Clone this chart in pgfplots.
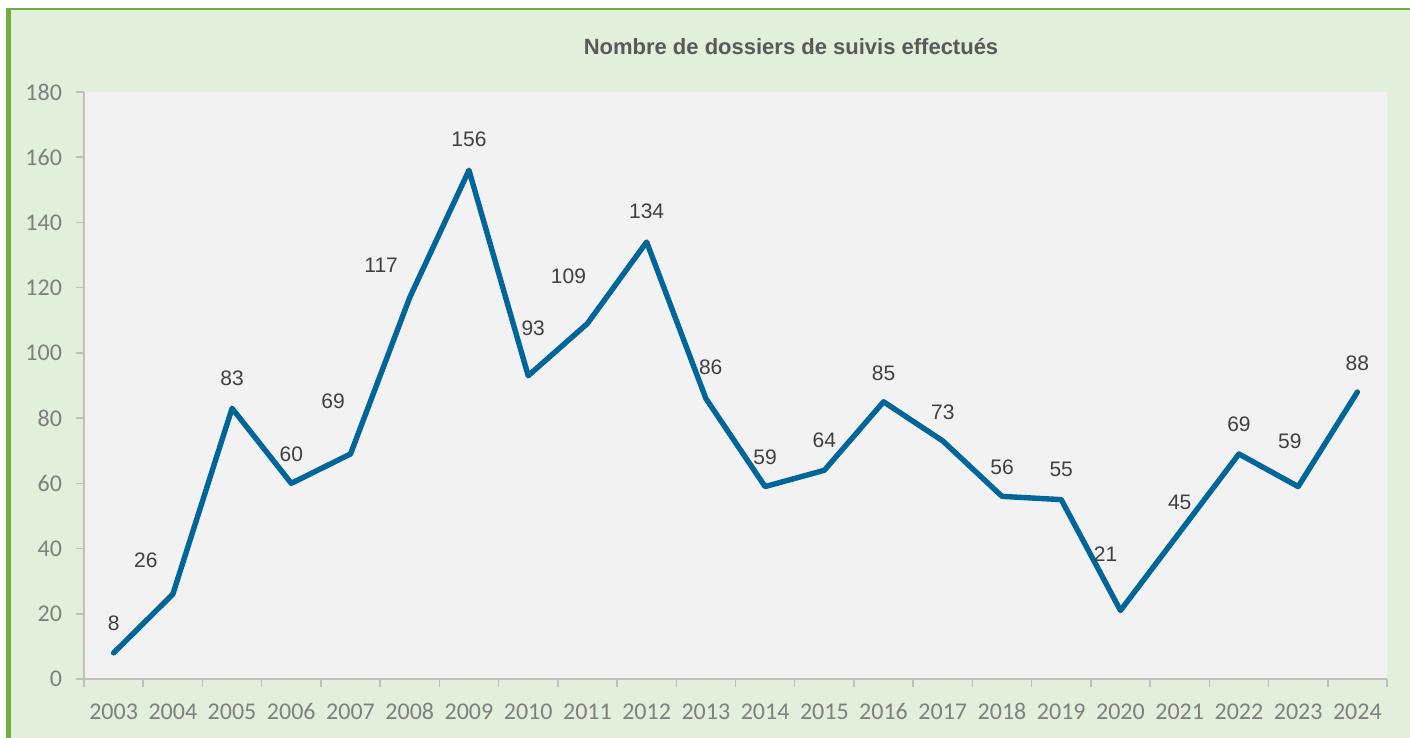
\documentclass[border=0pt]{standalone}
\usepackage{pgfplots}
\usepackage{pgfplotstable}
\pgfplotsset{compat=1.18}
\usepackage{fontspec}
\setmainfont{Liberation Sans}
\newfontfamily\calib{Carlito}
\definecolor{bgGreen}{HTML}{E2EFDA}
\definecolor{borderGreen}{HTML}{70AD47}
\definecolor{plotGray}{HTML}{F2F2F2}
\definecolor{axisGray}{HTML}{BFBFBF}
\definecolor{tickGray}{HTML}{7F7F7F}
\definecolor{labelGray}{HTML}{404040}
\definecolor{titleGray}{HTML}{595959}
\definecolor{lineBlue}{HTML}{00669A}

\pgfplotstableread{
x y dx dy
0 8 0 15
1 26 -13.5 17
2 83 0 15
3 60 0 14.7
4 69 -8.7 26.5
5 117 -14.3 16.2
6 156 0 15.5
7 93 2.5 23.5
8 109 -9.5 23.5
9 134 0 15.2
10 86 2.4 15.8
11 59 0 14.5
12 64 0 15
13 85 0 14.5
14 73 0 14.2
15 56 0 14.7
16 55 0 15
17 21 -7.4 28.3
18 45 0 15
19 69 0 14.7
20 59 -4.2 22.9
21 88 0 14.5
}\datatable

\begin{document}
\begin{tikzpicture}
\fill[white] (0,0) rectangle (705pt,369pt);
\fill[bgGreen] (3pt,0) rectangle (705pt,365pt);
\fill[borderGreen] (3pt,0) rectangle (5.25pt,365pt);
\fill[borderGreen] (3pt,363.85pt) rectangle (705pt,365pt);
\node[font=\bfseries\fontsize{11}{13}\selectfont, text=titleGray] at (395.5pt,345.5pt) {Nombre de dossiers de suivis effectués};
\begin{axis}[
  at={(42pt,29.5pt)}, anchor=south west,
  scale only axis, width=651.5pt, height=293.5pt,
  xmin=-0.5, xmax=21.5, ymin=0, ymax=180,
  clip=false,
  axis background/.style={fill=plotGray},
  axis x line=bottom, axis y line=left,
  axis line style={-, draw=axisGray, line width=0.75pt},
  every tick/.style={draw=axisGray, line width=0.75pt},
  tick align=outside, major tick length=4pt,
  xtick={-0.5,0.5,...,21.5},
  x tick label as interval,
  xticklabels={2003,2004,2005,2006,2007,2008,2009,2010,2011,2012,2013,2014,2015,2016,2017,2018,2019,2020,2021,2022,2023,2024},
  ytick={0,20,...,180},
  /pgf/number format/assume math mode=true,
  tick label style={font=\calib\fontsize{12}{14}\selectfont, text=tickGray},
  xticklabel style={text height=8pt, text depth=0pt, yshift=-4.75pt},
  yticklabel style={xshift=-3.5pt},
  nodes near coords,
  every node near coord/.append style={font=\fontsize{10.5}{12}\selectfont, text=labelGray, anchor=center, xshift=\labdx pt, yshift=\labdy pt},
  visualization depends on={\thisrow{dx} \as \labdx},
  visualization depends on={\thisrow{dy} \as \labdy},
]
\addplot[lineBlue, line width=2.7pt, line join=round, line cap=round, mark=none] table[x=x, y=y] {\datatable};
\end{axis}
\end{tikzpicture}
\end{document}
